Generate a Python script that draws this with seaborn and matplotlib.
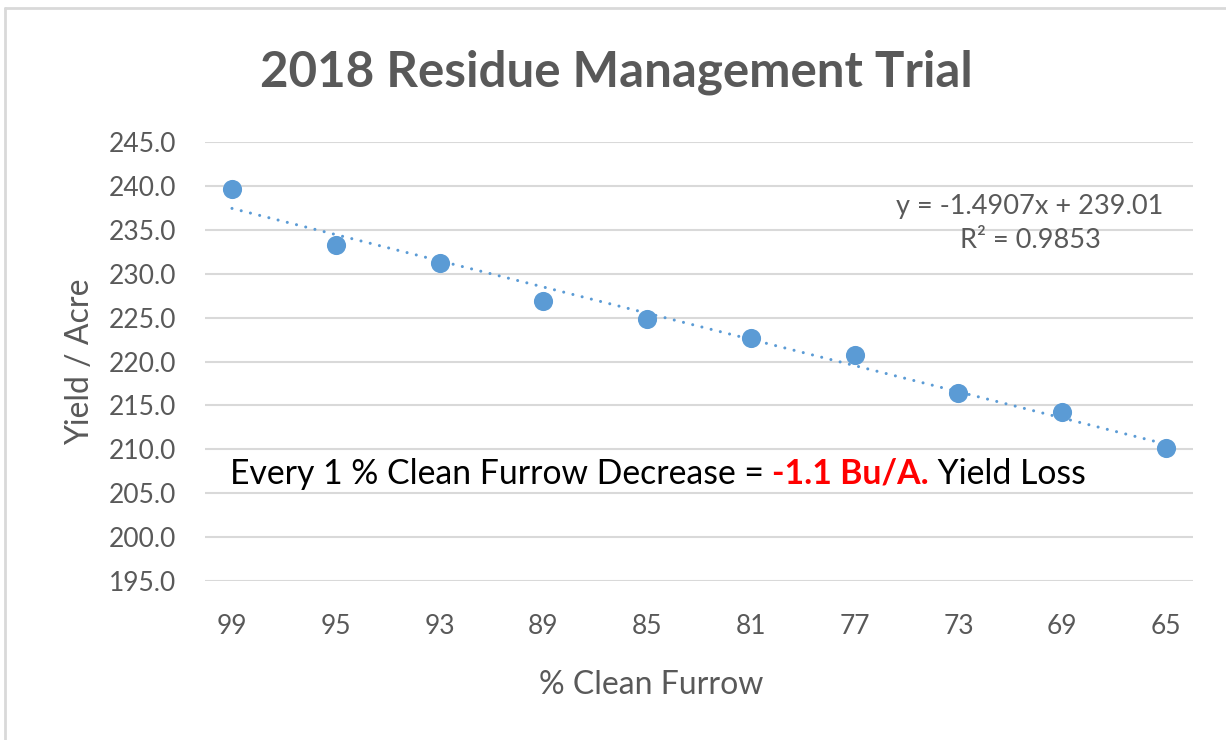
import numpy as np
import pandas as pd
import matplotlib
matplotlib.use("Agg")
import matplotlib.pyplot as plt
import seaborn as sns
from matplotlib.lines import Line2D

# data
clean_furrow = ["99", "95", "93", "89", "85", "81", "77", "73", "69", "65"]
yield_acre = [239.6, 233.3, 231.2, 226.9, 224.8, 222.7, 220.7, 216.4, 214.3, 210.2]
y_ticks = [195.0, 200.0, 205.0, 210.0, 215.0, 220.0, 225.0, 230.0, 235.0, 240.0, 245.0]
trend_label = "y = -1.4907x + 239.01\nR\u00b2 = 0.9853"

df = pd.DataFrame({
    "pos": np.arange(1, len(clean_furrow) + 1),
    "furrow": clean_furrow,
    "yield": yield_acre,
})

BLUE = "#5B9BD5"
GREY = "#595959"
GRID = "#D9D9D9"

sns.set_theme(style="white")
plt.rcParams["font.family"] = ["Lato", "DejaVu Sans"]

fig = plt.figure(figsize=(12.26, 7.4), dpi=100)
ax = fig.add_axes([205 / 1226, 1 - 581 / 740, 988 / 1226, 439 / 740])

# trendline (dotted) + points
sns.regplot(data=df, x="pos", y="yield", scatter=False, ci=None, ax=ax,
            line_kws=dict(color=BLUE, lw=2.2, ls=(0, (0.01, 3.1)),
                          dash_capstyle="round", zorder=3))
sns.scatterplot(data=df, x="pos", y="yield", ax=ax, s=190, color=BLUE,
                edgecolor=BLUE, linewidth=0, zorder=4)

ax.set_xlim(0.74, 10.26)
ax.set_ylim(195, 245)
ax.set_yticks(y_ticks)
ax.set_yticklabels([f"{v:.1f}" for v in y_ticks])
ax.set_xticks(df["pos"])
ax.set_xticklabels(clean_furrow)
ax.yaxis.grid(True, color=GRID, lw=1.5)
ax.xaxis.grid(False)
for sp in ax.spines.values():
    sp.set_visible(False)
ax.tick_params(axis="y", length=0, pad=21, labelsize=19, labelcolor=GREY)
ax.tick_params(axis="x", length=0, pad=24, labelsize=19, labelcolor=GREY)
ax.set_xlabel("% Clean Furrow", fontsize=23, color=GREY)
ax.set_ylabel("Yield / Acre", fontsize=23, color=GREY)
ax.xaxis.set_label_coords(0.452, -(685 - 581) / 439, transform=ax.transAxes)
ax.xaxis.label.set_va("center")
ax.yaxis.set_label_coords(-(205 - 80) / 988, (581 - 362) / 439, transform=ax.transAxes)
ax.yaxis.label.set_va("center")

# trendline equation
ax.text(0.835, 235.7, trend_label, transform=ax.get_yaxis_transform(),
        ha="center", va="center", multialignment="center",
        fontsize=19.5, color=GREY, linespacing=1.45)

# annotation with red bold part
t1 = ax.text(0.025, 207.2, "Every 1 % Clean Furrow Decrease = ",
             transform=ax.get_yaxis_transform(), ha="left", va="center",
             fontsize=24.3, color="black")
t2 = ax.annotate("-1.1 Bu/A.", xy=(1, 0), xycoords=t1, ha="left", va="bottom",
                 fontsize=24.3, color="#FF0000", fontweight="bold")
ax.annotate(" Yield Loss", xy=(1, 0), xycoords=t2, ha="left", va="bottom",
            fontsize=24.3, color="black")

fig.suptitle("2018 Residue Management Trial", x=0.503, y=1 - 72 / 740,
             va="center", fontsize=35.5, fontweight="bold", color=GREY)

# chart area border (top and left visible)
fig.add_artist(Line2D([5 / 1226, 1], [1 - 8 / 740, 1 - 8 / 740],
                      transform=fig.transFigure, color=GRID, lw=2))
fig.add_artist(Line2D([5 / 1226, 5 / 1226], [0, 1 - 8 / 740],
                      transform=fig.transFigure, color=GRID, lw=2))

fig.savefig("out.png", dpi=100)
